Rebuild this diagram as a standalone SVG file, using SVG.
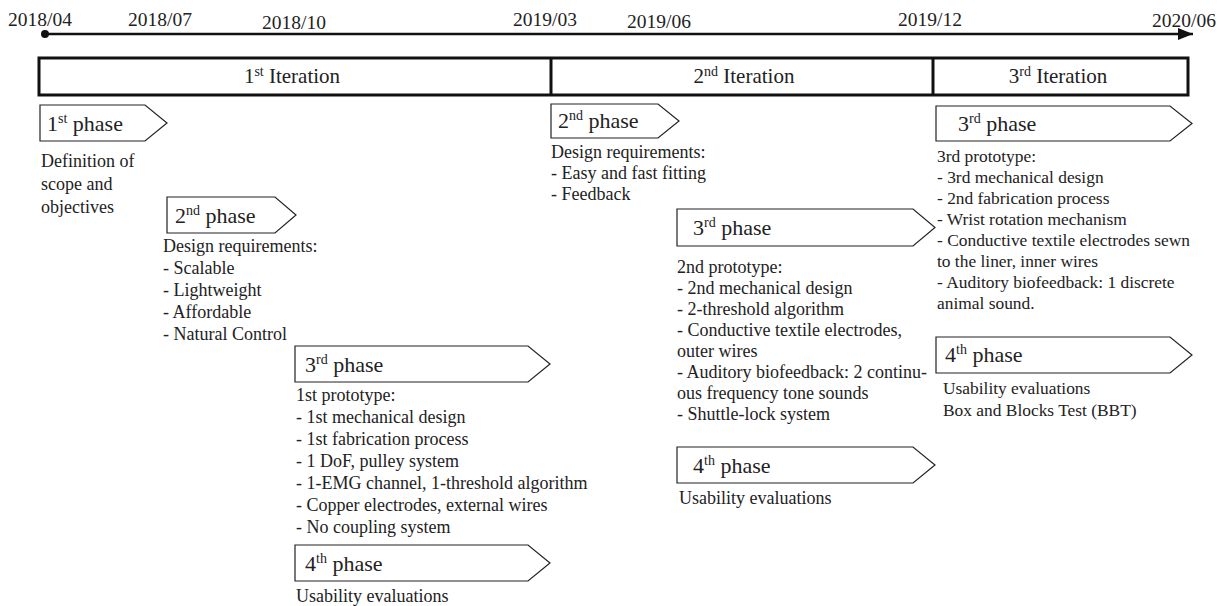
<svg xmlns="http://www.w3.org/2000/svg" width="1223" height="606" viewBox="0 0 1223 606" font-family="'Liberation Serif', 'DejaVu Serif', serif">
<style>
text{font-family:'Liberation Serif','Times New Roman','DejaVu Serif',serif;fill:#222}
.date{font-size:19.5px}
.it{font-size:21px}
.ph{font-size:22px}
.sup{font-size:14px}
.body{font-size:18px}
.body3{font-size:17.4px}
.phase{fill:#fff;stroke:#222;stroke-width:1.2}
</style>
<defs>
<marker id="ah" markerWidth="16" markerHeight="12" refX="15" refY="6" orient="auto" markerUnits="userSpaceOnUse"><path d="M0,0 L15,6 L0,12 Z" fill="#111"/></marker>
</defs>
<g id="timeline">
<line x1="45" y1="34" x2="1193" y2="34" stroke="#111" stroke-width="2.5" marker-end="url(#ah)"/>
<circle cx="45" cy="34" r="4" fill="#111"/>
<text class="date" x="8" y="26">2018/04</text>
<text class="date" x="128" y="26">2018/07</text>
<text class="date" x="262" y="29">2018/10</text>
<text class="date" x="513" y="26">2019/03</text>
<text class="date" x="627" y="28">2019/06</text>
<text class="date" x="898" y="26">2019/12</text>
<text class="date" x="1152" y="27">2020/06</text>
</g>
<g id="iterations">
<rect x="39" y="58" width="1149" height="37" fill="#fff" stroke="#111" stroke-width="3"/>
<line x1="551" y1="58" x2="551" y2="95" stroke="#111" stroke-width="3"/>
<line x1="933" y1="58" x2="933" y2="95" stroke="#111" stroke-width="3"/>
<text class="it" x="292" y="83" text-anchor="middle">1<tspan class="sup" dy="-7">st</tspan><tspan dy="7"> Iteration</tspan></text>
<text class="it" x="744" y="83" text-anchor="middle">2<tspan class="sup" dy="-7">nd</tspan><tspan dy="7">  Iteration</tspan></text>
<text class="it" x="1058" y="83" text-anchor="middle">3<tspan class="sup" dy="-7">rd</tspan><tspan dy="7">  Iteration</tspan></text>
</g>
<g id="i1p1">
<path class="phase" d="M40,105 H145 L167,123 L145,141 H40 Z"/>
<text class="ph" x="47" y="131">1<tspan class="sup" dy="-8">st</tspan><tspan dy="8"> phase</tspan></text>
<text class="body" x="41" y="167">Definition of</text>
<text class="body" x="41" y="190">scope and</text>
<text class="body" x="41" y="213">objectives</text>
</g>
<g id="i1p2">
<path class="phase" d="M167,197 H275 L296,215 L275,233 H167 Z"/>
<text class="ph" x="175" y="223">2<tspan class="sup" dy="-8">nd</tspan><tspan dy="8"> phase</tspan></text>
<text class="body" x="163" y="252">Design requirements:</text>
<text class="body" x="163" y="274">- Scalable</text>
<text class="body" x="163" y="296">- Lightweight</text>
<text class="body" x="163" y="318">- Affordable</text>
<text class="body" x="163" y="340">- Natural Control</text>
</g>
<g id="i1p3">
<path class="phase" d="M295,346 H528 L550,364 L528,382 H295 Z"/>
<text class="ph" x="305" y="372">3<tspan class="sup" dy="-8">rd</tspan><tspan dy="8"> phase</tspan></text>
<text class="body" x="296" y="401">1st prototype:</text>
<text class="body" x="296" y="423">- 1st mechanical design</text>
<text class="body" x="296" y="445">- 1st fabrication process</text>
<text class="body" x="296" y="467">- 1 DoF, pulley system</text>
<text class="body" x="296" y="489">- 1-EMG channel, 1-threshold algorithm</text>
<text class="body" x="296" y="511">- Copper electrodes, external wires</text>
<text class="body" x="296" y="533">- No coupling system</text>
</g>
<g id="i1p4">
<path class="phase" d="M295,545 H528 L550,563 L528,581 H295 Z"/>
<text class="ph" x="305" y="571">4<tspan class="sup" dy="-8">th</tspan><tspan dy="8"> phase</tspan></text>
<text class="body" x="296" y="602">Usability evaluations</text>
</g>
<g id="i2p2">
<path class="phase" d="M551,104 H658 L679,121 L658,138 H551 Z"/>
<text class="ph" x="558" y="128">2<tspan class="sup" dy="-8">nd</tspan><tspan dy="8"> phase</tspan></text>
<text class="body" x="551" y="158">Design requirements:</text>
<text class="body" x="551" y="179">- Easy and fast fitting</text>
<text class="body" x="551" y="200">- Feedback</text>
</g>
<g id="i2p3">
<path class="phase" d="M677,209 H913 L935,227.5 L913,246 H677 Z"/>
<text class="ph" x="693" y="235">3<tspan class="sup" dy="-8">rd</tspan><tspan dy="8"> phase</tspan></text>
<text class="body" x="677" y="273">2nd prototype:</text>
<text class="body" x="677" y="294">- 2nd mechanical design</text>
<text class="body" x="677" y="315">- 2-threshold algorithm</text>
<text class="body" x="677" y="336">- Conductive textile electrodes,</text>
<text class="body" x="677" y="357">outer wires</text>
<text class="body" x="677" y="378">- Auditory biofeedback: 2 continu-</text>
<text class="body" x="677" y="399">ous frequency tone sounds</text>
<text class="body" x="677" y="420">- Shuttle-lock system</text>
</g>
<g id="i2p4">
<path class="phase" d="M677,447 H913 L935,465 L913,483 H677 Z"/>
<text class="ph" x="693" y="473">4<tspan class="sup" dy="-8">th</tspan><tspan dy="8"> phase</tspan></text>
<text class="body" x="679" y="504">Usability evaluations</text>
</g>
<g id="i3p3">
<path class="phase" d="M936,106 H1170 L1192,123.5 L1170,141 H936 Z"/>
<text class="ph" x="958" y="131">3<tspan class="sup" dy="-8">rd</tspan><tspan dy="8"> phase</tspan></text>
<text class="body3" x="937" y="162">3rd prototype:</text>
<text class="body3" x="937" y="183">- 3rd mechanical design</text>
<text class="body3" x="937" y="204">- 2nd fabrication process</text>
<text class="body3" x="937" y="225">- Wrist rotation mechanism</text>
<text class="body3" x="937" y="246">- Conductive textile electrodes sewn</text>
<text class="body3" x="937" y="267">to the liner, inner wires</text>
<text class="body3" x="937" y="288">- Auditory biofeedback: 1 discrete</text>
<text class="body3" x="937" y="309">animal sound.</text>
</g>
<g id="i3p4">
<path class="phase" d="M936,337 H1170 L1192,355 L1170,373 H936 Z"/>
<text class="ph" x="945" y="362">4<tspan class="sup" dy="-8">th</tspan><tspan dy="8"> phase</tspan></text>
<text class="body3" x="943" y="394">Usability evaluations</text>
<text class="body3" x="943" y="416">Box and Blocks Test (BBT)</text>
</g>
</svg>
